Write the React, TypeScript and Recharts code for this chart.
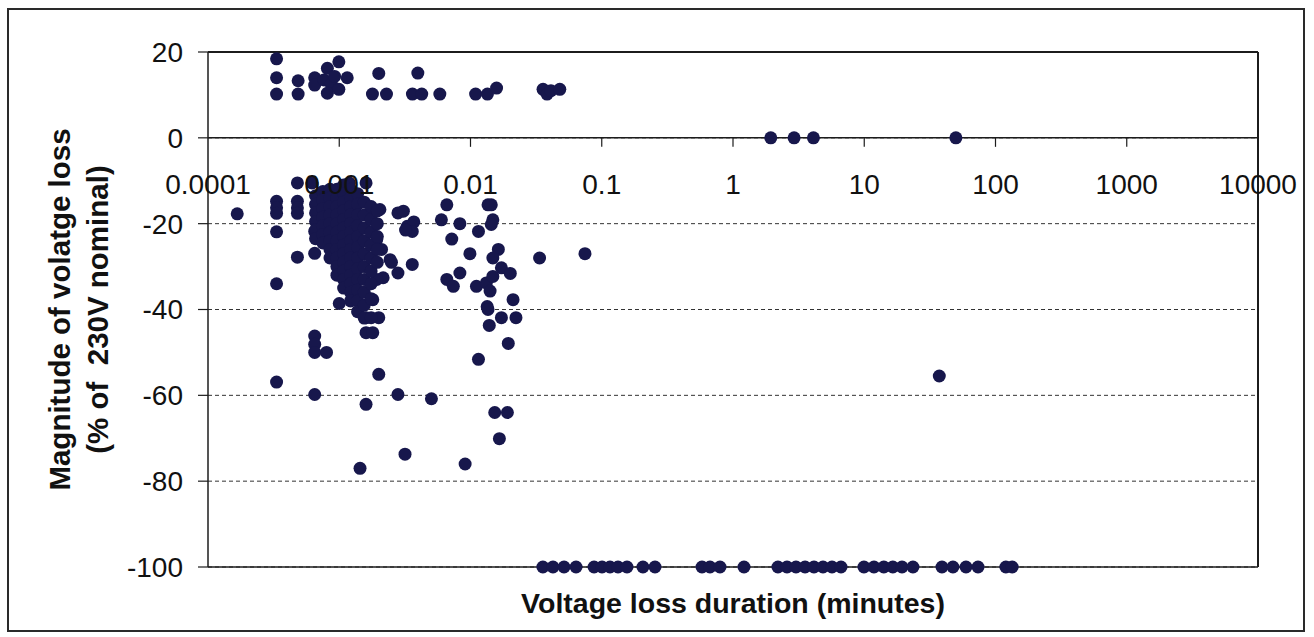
import React from "react";
import { ScatterChart, Scatter, XAxis, YAxis, CartesianGrid, ReferenceLine } from "recharts";

// values
const X_TICKS = [0.0001, 0.001, 0.01, 0.1, 1, 10, 100, 1000, 10000];
const X_TICK_LABELS = ["0.0001", "0.001", "0.01", "0.1", "1", "10", "100", "1000", "10000"];
const Y_TICKS = [20, 0, -20, -40, -60, -80, -100];
const Y_MIN = -100;
const Y_MAX = 20;

// swells above nominal [minutes, %]
const SWELLS: [number, number][] = [
  [0.000333, 18.4], [0.000333, 14.0], [0.000333, 10.2],
  [0.000486, 13.3], [0.000486, 10.2],
  [0.00065, 14.0], [0.00065, 12.3], [0.000765, 13.5], [0.00087, 12.5],
  [0.000812, 16.2], [0.000812, 10.4], [0.000922, 14.3],
  [0.000993, 17.7], [0.000993, 11.3], [0.00115, 14.0],
  [0.002, 15.0], [0.00179, 10.2], [0.00229, 10.2],
  [0.00397, 15.1], [0.00361, 10.2], [0.00425, 10.2], [0.00584, 10.2],
  [0.01094, 10.2], [0.01346, 10.2], [0.0158, 11.6],
  [0.0357, 11.3], [0.0383, 10.2], [0.041, 11.0], [0.0479, 11.3],
];

// events sitting on the 0 line
const ZERO_EVENTS: [number, number][] = [
  [1.94, 0], [2.92, 0], [4.1, 0], [49.9, 0],
];

// scattered sags
const SAGS: [number, number][] = [
  [0.000167, -17.7],
  [0.000333, -14.8], [0.000333, -16.3], [0.000333, -17.6], [0.000333, -21.9], [0.000333, -34.0], [0.000333, -56.9],
  [0.00048, -10.5], [0.00048, -14.8], [0.00048, -16.3], [0.00048, -17.6], [0.00048, -27.8],
  [0.00062, -10.5], [0.00119, -10.5], [0.0016, -10.5],
  [0.00065, -26.9], [0.00065, -21.8], [0.001, -38.6],
  [0.00065, -46.2], [0.00065, -48.1], [0.00065, -50.0], [0.0008, -50.0], [0.00065, -59.8],
  [0.0016, -45.4], [0.0018, -45.4], [0.002, -41.9], [0.0016, -41.9],
  [0.002, -55.1], [0.0016, -62.1], [0.00144, -77.0],
  [0.0028, -59.8], [0.00504, -60.8], [0.00317, -73.7], [0.0091, -76.0],
  [0.00182, -16.7], [0.00204, -16.7], [0.0028, -17.5], [0.00308, -17.1], [0.0033, -20.6],
  [0.0037, -19.6], [0.0036, -21.8], [0.0032, -21.5],
  [0.0036, -29.5], [0.0028, -31.5], [0.00244, -28.4], [0.0025, -29.0], [0.00193, -23.7],
  [0.0021, -26.0], [0.00216, -32.6], [0.00193, -33.0], [0.0018, -37.7],
  [0.0066, -15.6], [0.006, -19.1], [0.0083, -20.0], [0.0072, -23.6], [0.0099, -27.0], [0.0115, -21.8],
  [0.0136, -15.6], [0.0144, -15.6], [0.0148, -19.1], [0.0144, -20.2], [0.0163, -26.0], [0.0148, -28.0],
  [0.0336, -28.0], [0.0745, -27.0],
  [0.0066, -33.0], [0.0074, -34.6], [0.0083, -31.5], [0.0111, -34.6], [0.0132, -33.8], [0.0141, -35.7],
  [0.0148, -32.3], [0.0172, -30.3], [0.0201, -31.6], [0.0211, -37.7], [0.0134, -39.3], [0.0136, -40.0],
  [0.0139, -43.7], [0.0172, -41.9], [0.0222, -41.9], [0.0194, -47.9], [0.0115, -51.6],
  [0.0153, -64.0], [0.0191, -64.0], [0.0166, -70.1],
  [37.3, -55.5],
];

// the dense clump around 1 ms, column by column
const CLUMP: { x: number; ys: number[] }[] = [
  { x: 0.00066, ys: [-13.5, -15.5, -17.5, -19.5, -21.5, -23.5] },
  { x: 0.00075, ys: [-12.5, -14.5, -16.5, -18.5, -20.5, -22.5, -24.5] },
  { x: 0.00085, ys: [-12, -14, -16, -18, -20, -22, -24, -26, -28] },
  { x: 0.00096, ys: [-12, -14, -16, -18, -20, -22, -24, -26, -28, -30, -32] },
  { x: 0.00108, ys: [-11, -13, -15, -17, -19, -21, -23, -25, -27, -29, -31, -33, -35] },
  { x: 0.00122, ys: [-12, -14, -16, -18, -20, -22, -24, -26, -28, -30, -32, -34, -36, -38] },
  { x: 0.00138, ys: [-13, -15.5, -18, -20.5, -23, -25.5, -28, -30.5, -33, -35.5, -38, -40.5] },
  { x: 0.00155, ys: [-15, -18, -21, -24, -27, -30, -33, -36, -39, -42] },
  { x: 0.00175, ys: [-16, -19, -22, -25, -28, -31, -34, -37.5, -41.9] },
  { x: 0.00195, ys: [-17, -20, -23, -26, -29] },
];

// interruptions (-100%), durations in minutes
const INTERRUPTIONS = [
  0.0356, 0.0425, 0.0516, 0.0637, 0.0874, 0.1005, 0.1156, 0.133, 0.1557, 0.206, 0.2545,
  0.5807, 0.668, 0.796, 1.213,
  2.2, 2.58, 3.02, 3.54, 4.14, 4.85, 5.68, 6.65,
  9.95, 11.86, 14.1, 16.5, 19.4, 23.5,
  39.1, 47.4, 59.6, 73.6, 120, 134,
];

const toPoints = (arr: [number, number][]) => arr.map(([x, y]) => ({ x, y }));
const clumpPoints = CLUMP.flatMap((c) => c.ys.map((y) => ({ x: c.x, y })));
const interruptPoints = INTERRUPTIONS.map((x) => ({ x, y: -100 }));

const FONT = "'Liberation Sans', Arial, sans-serif";
const DOT = "#17174c";
const INK = "#1c1c1c";

const PLOT_TOP = 52;
const PLOT_H = 515;
const ZERO_Y = PLOT_TOP + (PLOT_H * (Y_MAX - 0)) / (Y_MAX - Y_MIN);

function Dot(props: any) {
  const { cx, cy } = props;
  if (cx == null || cy == null) return null;
  return <circle cx={cx} cy={cy} r={6.5} fill={DOT} />;
}

function XTick(props: any) {
  const { x, payload } = props;
  const i = X_TICKS.indexOf(payload.value);
  return (
    <g>
      {i > 0 && <line x1={x} x2={x} y1={ZERO_Y} y2={ZERO_Y + 9} stroke={INK} strokeWidth={1.2} />}
      <text x={x} y={ZERO_Y + 56} textAnchor="middle" fontFamily={FONT} fontSize={28} fill="#111">
        {X_TICK_LABELS[i]}
      </text>
    </g>
  );
}

function YTitle(props: any) {
  const vb = props.viewBox || {};
  const cy = vb.y + vb.height / 2;
  const style = { fontFamily: FONT, fontSize: 29.5, fontWeight: 700, fill: "#111" };
  return (
    <g>
      <text x={70} y={cy} transform={`rotate(-90 70 ${cy})`} textAnchor="middle" style={style}>
        Magnitude of volatge loss
      </text>
      <text x={108} y={cy} transform={`rotate(-90 108 ${cy})`} textAnchor="middle" style={style} xmlSpace="preserve">
        (% of  230V nominal)
      </text>
    </g>
  );
}

export default function App() {
  return (
    <div style={{ position: "absolute", left: 0, top: 0, width: 1314, height: 637, background: "#fff" }}>
      <div
        style={{
          position: "absolute", left: 7, top: 8, width: 1298, height: 624,
          border: "2px solid #2a2a2a", boxSizing: "border-box",
        }}
      />
      <div style={{ position: "absolute", left: 0, top: 0 }}>
        <ScatterChart width={1314} height={637} margin={{ top: PLOT_TOP, right: 56, bottom: 50, left: 128 }}>
          <CartesianGrid vertical={false} stroke="#333" strokeDasharray="4 3" />
          <XAxis
            type="number"
            dataKey="x"
            scale="log"
            domain={[0.0001, 10000]}
            ticks={X_TICKS}
            interval={0}
            allowDataOverflow
            height={20}
            axisLine={{ stroke: INK, strokeWidth: 1.5 }}
            tickLine={false}
            tick={<XTick />}
            label={{
              value: "Voltage loss duration (minutes)",
              position: "bottom",
              offset: 6,
              style: { fontFamily: FONT, fontSize: 28.5, fontWeight: 700, fill: "#111" },
            }}
          />
          <YAxis
            type="number"
            dataKey="y"
            domain={[Y_MIN, Y_MAX]}
            ticks={Y_TICKS}
            interval={0}
            width={80}
            axisLine={{ stroke: INK, strokeWidth: 1.5 }}
            tickLine={{ stroke: INK, strokeWidth: 1.2 }}
            tickSize={10}
            tickMargin={15}
            tick={{ fontFamily: FONT, fontSize: 28, fill: "#111" }}
            label={<YTitle />}
          />
          <ReferenceLine y={0} stroke={INK} strokeWidth={1.5} />
          <ReferenceLine y={20} stroke={INK} strokeWidth={2} />
          <ReferenceLine x={10000} stroke={INK} strokeWidth={2} />
          <Scatter data={toPoints(SWELLS)} shape={Dot} isAnimationActive={false} />
          <Scatter data={toPoints(ZERO_EVENTS)} shape={Dot} isAnimationActive={false} />
          <Scatter data={toPoints(SAGS)} shape={Dot} isAnimationActive={false} />
          <Scatter data={clumpPoints} shape={Dot} isAnimationActive={false} />
          <Scatter data={interruptPoints} shape={Dot} isAnimationActive={false} />
        </ScatterChart>
      </div>
    </div>
  );
}
